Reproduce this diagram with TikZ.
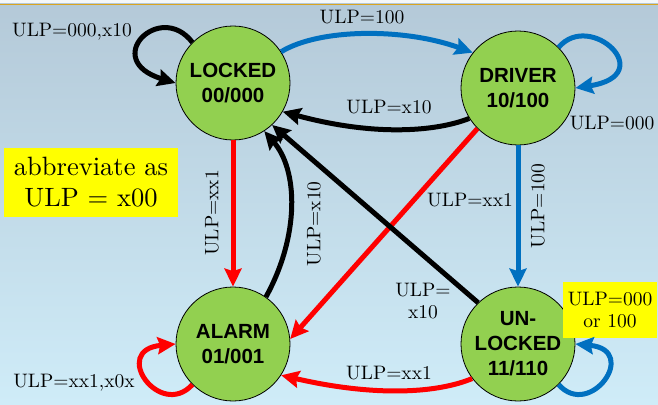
\documentclass[tikz,border=0pt]{standalone}
\usepackage{fontspec}
\setmainfont{lmroman10-regular}[Extension=.otf]
\newfontfamily\statesans{Liberation Sans}
\usetikzlibrary{arrows.meta}
\definecolor{stategreen}{RGB}{146,208,80}
\definecolor{eblue}{RGB}{0,112,192}
\definecolor{ered}{RGB}{255,0,0}
\definecolor{ylw}{RGB}{255,255,0}
\definecolor{topline}{RGB}{218,165,32}
\definecolor{bgtop}{RGB}{180,201,216}
\definecolor{bgbot}{RGB}{207,236,248}
\tikzset{
  state/.style={circle, draw=black, line width=0.8pt, fill=stategreen,
    minimum size=114pt, inner sep=0pt, align=center,
    font=\statesans\bfseries\fontsize{20.5}{25}\selectfont},
  lab/.style={inner sep=0pt, font=\fontsize{19.5}{22}\selectfont, align=center},
  note/.style={fill=ylw, inner sep=0pt, align=center},
  edge/.style={line width=5pt, -{Stealth[length=18pt,width=17pt,inset=2.5pt]}},
}
\begin{document}
\begin{tikzpicture}[x=1pt,y=-1pt]
\useasboundingbox (0,0) rectangle (658,404);
\shade[top color=bgtop, bottom color=bgbot] (0,0) rectangle (658,404);
\fill[white!85!bgtop] (0,0) rectangle (658,3);
\draw[topline, line width=1.6pt] (0,4.5) -- (658,4.5);

% states
\node[state] (L) at (233,83) {LOCKED\\00/000};
\node[state] (D) at (518,88) {DRIVER\\10/100};
\node[state] (A) at (233,344) {ALARM\\01/001};
\node[state] (U) at (518,344) {UN-\\LOCKED\\11/110};

% notes
\node[note, minimum width=174pt, minimum height=69pt,
  font=\fontsize{26.5}{31}\selectfont] (n1) at (91,182.5) {abbreviate as\\ULP = x00};
\node[note, minimum width=94pt, minimum height=56pt,
  font=\fontsize{19.5}{22}\selectfont] (n2) at (610,310) {ULP=000\\or 100};

% edges
\draw[edge] (L.135) .. controls (160,0) and (100,60) .. (L.180);
\draw[edge, eblue] (L.33) .. controls (320,28) and (405,28) .. (D.142);
\draw[edge, eblue] (D.45) .. controls (590,10) and (660,75) .. (D.0);
\draw[edge] (D.212) .. controls (440,130) and (380,138) .. (L.-30);
\draw[edge, ered] (D.225) -- (A.5);
\draw[edge, eblue] (D.270) -- (U.90);
\draw[edge, ered] (L.270) -- (A.90);
\draw[edge] (A.55) .. controls (300,235) and (298,170) .. (L.-57);
\draw[edge] (U.134) -- (L.-47);
\draw[edge, ered] (U.217) .. controls (440,392) and (380,398) .. (A.-33);
\draw[edge, eblue] (U.-45) .. controls (590,420) and (640,350) .. (U.0);
\draw[edge, ered] (A.225) .. controls (160,420) and (110,350) .. (A.180);

% labels
\node[lab] (l1) at (72,32) {ULP=000,x10};
\node[lab] (l2) at (362,17) {ULP=100};
\node[lab] (l3) at (389,107) {ULP=x10};
\node[lab] (l4) at (612,123) {ULP=000};
\node[lab, rotate=90] (l5) at (212,213) {ULP=xx1};
\node[lab, rotate=90] (l6) at (314,224) {ULP=x10};
\node[lab] (l7) at (470,200) {ULP=xx1};
\node[lab, rotate=90] (l8) at (538,206) {ULP=100};
\node[lab] (l9) at (423,301) {ULP=\\x10};
\node[lab] (l10) at (389,373) {ULP=xx1};
\node[lab] (l11) at (74,383) {ULP=xx1,x0x};
\end{tikzpicture}
\end{document}
